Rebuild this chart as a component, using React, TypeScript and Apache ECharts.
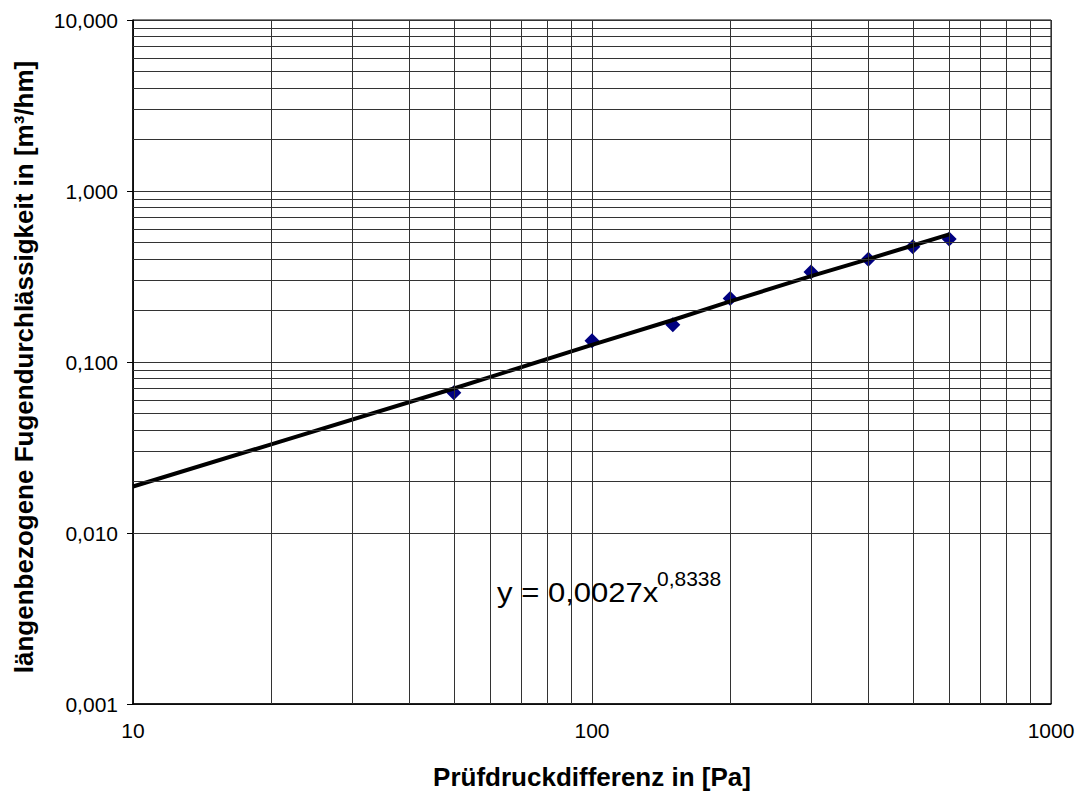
import React, { useEffect, useRef } from "react";
import * as echarts from "echarts";

const pressure = [50, 100, 150, 200, 300, 400, 500, 600];
const leakage = [0.066, 0.133, 0.165, 0.235, 0.336, 0.399, 0.472, 0.524];

const trendX = [10, 20, 50, 100, 150, 200, 300, 400, 500, 600];
const trendY = [0.0187, 0.033, 0.07, 0.126, 0.176, 0.226, 0.318, 0.4, 0.48, 0.558];

const xMinorGrid = [20, 30, 40, 50, 60, 70, 80, 90, 200, 300, 400, 500, 600, 700, 800, 900];
const yMinorGrid = [
  0.002, 0.003, 0.004, 0.005, 0.006, 0.007, 0.008, 0.009,
  0.02, 0.03, 0.04, 0.05, 0.06, 0.07, 0.08, 0.09,
  0.2, 0.3, 0.4, 0.5, 0.6, 0.7, 0.8, 0.9,
  2, 3, 4, 5, 6, 7, 8, 9,
];

const xTitle = "Prüfdruckdifferenz in [Pa]";
const yTitle = "längenbezogene Fugendurchlässigkeit in [m³/hm]";
const eqMain = "y = 0,0027x";
const eqExp = "0,8338";

const FONT = "'Liberation Sans', Arial, sans-serif";
const GRID_COLOR = "#333333";

export default function App() {
  const ref = useRef<HTMLDivElement>(null);

  useEffect(() => {
    if (!ref.current) return;
    const chart = echarts.init(ref.current, null, { renderer: "svg" });

    const gridLineData = [
      ...xMinorGrid.map((v) => ({ xAxis: v })),
      ...yMinorGrid.map((v) => ({ yAxis: v })),
    ];

    chart.setOption({
      animation: false,
      backgroundColor: "#ffffff",
      grid: {
        left: 133,
        top: 20,
        right: 30,
        bottom: 87,
        show: true,
        borderColor: "#000",
        borderWidth: 1,
        backgroundColor: "transparent",
      },
      xAxis: {
        type: "log",
        logBase: 10,
        min: 10,
        max: 1000,
        axisLine: { show: true, lineStyle: { color: "#000", width: 1.5 } },
        axisTick: { show: false },
        minorTick: { show: false },
        splitLine: { show: true, lineStyle: { color: GRID_COLOR, width: 1 } },
        axisLabel: {
          color: "#000",
          fontFamily: FONT,
          fontSize: 21,
          margin: 16,
          formatter: (v: number) => String(Math.round(v)),
        },
      },
      yAxis: {
        type: "log",
        logBase: 10,
        min: 0.001,
        max: 10,
        axisLine: { show: true, lineStyle: { color: "#000", width: 1.5 } },
        axisTick: { show: true, length: 6, lineStyle: { color: "#000", width: 1 } },
        minorTick: { show: false },
        splitLine: { show: true, lineStyle: { color: GRID_COLOR, width: 1 } },
        axisLabel: {
          color: "#000",
          fontFamily: FONT,
          fontSize: 21,
          margin: 15,
          formatter: (v: number) => v.toFixed(3).replace(".", ","),
        },
      },
      series: [
        {
          type: "line",
          data: [],
          z: 1,
          silent: true,
          markLine: {
            silent: true,
            symbol: ["none", "none"],
            label: { show: false },
            emphasis: { disabled: true },
            lineStyle: { type: "solid", color: GRID_COLOR, width: 1, opacity: 1 },
            animation: false,
            data: gridLineData,
          },
        },
        {
          type: "scatter",
          data: pressure.map((p, i) => [p, leakage[i]]),
          symbol: "diamond",
          symbolSize: 15,
          itemStyle: { color: "#000080", opacity: 1 },
          z: 3,
        },
        {
          type: "line",
          data: trendX.map((p, i) => [p, trendY[i]]),
          showSymbol: false,
          symbol: "none",
          smooth: false,
          lineStyle: { color: "#000", width: 4 },
          z: 4,
        },
      ],
      graphic: [
        {
          type: "text",
          x: 592,
          y: 777,
          style: {
            text: xTitle,
            fontFamily: FONT,
            fontWeight: "bold",
            fontSize: 26,
            fill: "#000",
            align: "center",
            verticalAlign: "middle",
          },
        },
        {
          type: "text",
          x: 24,
          y: 367,
          rotation: Math.PI / 2,
          style: {
            text: yTitle,
            fontFamily: FONT,
            fontWeight: "bold",
            fontSize: 26,
            fill: "#000",
            align: "center",
            verticalAlign: "middle",
          },
        },
        {
          type: "text",
          x: 497,
          y: 593,
          scaleX: 1.15,
          z: 10,
          style: {
            text: eqMain,
            fontFamily: FONT,
            fontSize: 27,
            fill: "#000",
            align: "left",
            verticalAlign: "middle",
          },
        },
        {
          type: "text",
          x: 657,
          y: 579,
          scaleX: 1.05,
          z: 10,
          style: {
            text: eqExp,
            fontFamily: FONT,
            fontSize: 20,
            fill: "#000",
            align: "left",
            verticalAlign: "middle",
          },
        },
      ],
    });

    return () => chart.dispose();
  }, []);

  return (
    <div
      ref={ref}
      style={{ position: "fixed", left: 0, top: 0, width: 1081, height: 791 }}
    />
  );
}
